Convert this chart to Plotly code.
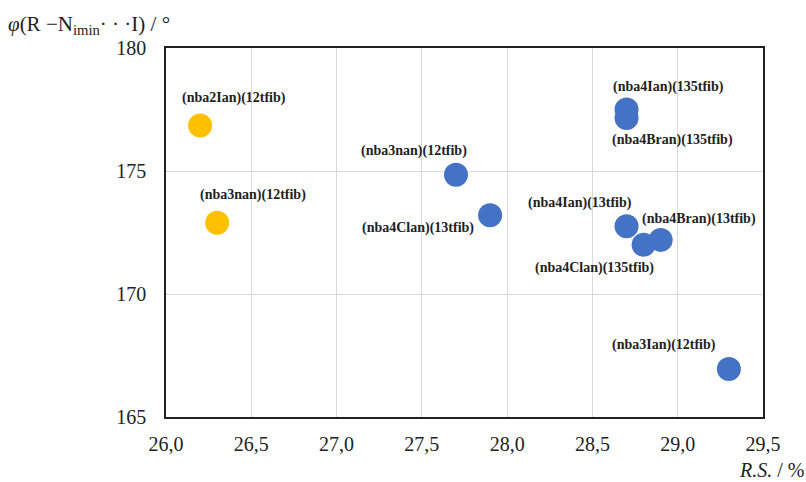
import plotly.graph_objects as go

# ---- data ----
labels = ["(nba2Ian)(12tfib)", "(nba3nan)(12tfib)",
          "(nba3nan)(12tfib)", "(nba4Clan)(13tfib)", "(nba4Ian)(135tfib)",
          "(nba4Bran)(135tfib)", "(nba4Ian)(13tfib)", "(nba4Bran)(13tfib)",
          "(nba4Clan)(135tfib)", "(nba3Ian)(12tfib)"]
rs_values = [26.2, 26.3, 27.7, 27.9, 28.7, 28.7, 28.7, 28.9, 28.8, 29.3]
phi_values = [176.85, 172.9, 174.85, 173.2, 177.5, 177.15, 172.75, 172.2, 172.0, 166.95]
groups = ["y", "y", "b", "b", "b", "b", "b", "b", "b", "b"]

x_ticks = [26.0, 26.5, 27.0, 27.5, 28.0, 28.5, 29.0, 29.5]
x_ticktext = ["26,0", "26,5", "27,0", "27,5", "28,0", "28,5", "29,0", "29,5"]
y_ticks = [165, 170, 175, 180]

# ---- styling ----
colors = {"y": "#FFC000", "b": "#4472C4"}
label_offsets = [(34, 27), (36, 28), (-42, 24), (-72, -13), (42, 23),
                 (46, -22), (-47, 23), (38, 21), (-49, -23), (-65, 24)]
serif = "Liberation Serif"

fig = go.Figure()
for g in ["b", "y"]:
    idx = [i for i, gg in enumerate(groups) if gg == g]
    fig.add_trace(go.Scatter(
        x=[rs_values[i] for i in idx], y=[phi_values[i] for i in idx],
        mode="markers",
        marker=dict(size=24, color=colors[g], line=dict(width=0)),
        showlegend=False, hoverinfo="x+y"))

for i, lab in enumerate(labels):
    dx, dy = label_offsets[i]
    fig.add_annotation(x=rs_values[i], y=phi_values[i], text="<b>" + lab + "</b>",
                       showarrow=False, xshift=dx, yshift=dy,
                       font=dict(family=serif, size=14, color="#222222"))

fig.add_annotation(xref="paper", yref="paper", x=-0.268, y=1.0, yshift=8,
                   xanchor="left", yanchor="bottom", showarrow=False,
                   text="<i>φ</i>(R −N<sub>imin</sub>· · ·I) / °",
                   font=dict(family=serif, size=21, color="#222222"))
fig.add_annotation(xref="paper", yref="paper", x=1.072, y=0, yshift=-40,
                   xanchor="right", yanchor="top", showarrow=False,
                   text="<i>R.S.</i> / %",
                   font=dict(family=serif, size=20, color="#222222"))

axis_common = dict(showline=True, linecolor="#222222", linewidth=1.5, mirror=True,
                   showgrid=True, gridcolor="#D9D9D9", gridwidth=1,
                   zeroline=False, ticks="",
                   tickfont=dict(family=serif, size=20, color="#222222"))
fig.update_xaxes(range=[26.0, 29.5], tickvals=x_ticks, ticktext=x_ticktext,
                 ticklabelstandoff=8, **axis_common)
fig.update_yaxes(range=[165, 180], tickvals=y_ticks, ticklabelstandoff=14, **axis_common)

fig.update_layout(width=806, height=482, margin=dict(l=166, r=43, t=48, b=65),
                  plot_bgcolor="white", paper_bgcolor="white")
fig.write_html("out.html", config={"displayModeBar": False},
               post_script="document.body.style.margin='0';")
